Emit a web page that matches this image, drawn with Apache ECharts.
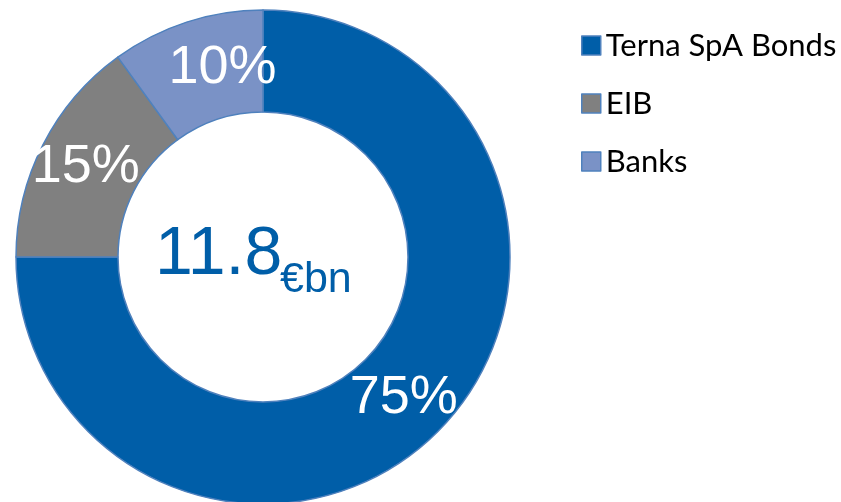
<!DOCTYPE html>
<html>
<head>
<meta charset="utf-8">
<title>Debt structure</title>
<script src="https://cdn.jsdelivr.net/npm/echarts@6/dist/echarts.min.js"></script>
<style>
  html, body { margin: 0; padding: 0; background: #fff; }
  #main { width: 841px; height: 502px; }
</style>
</head>
<body>
<div id="main"></div>
<script>
// data
const categories = ['Terna SpA Bonds', 'EIB', 'Banks']
const shares = [75, 15, 10]
const colors = ['#005EA8', '#808080', '#7A92C6']
const totalValue = '11.8'
const totalUnit = '€bn'

const chart = echarts.init(document.getElementById('main'))

const pieData = categories.map((name, i) => ({
  name: name,
  value: shares[i],
  itemStyle: { color: colors[i] },
  // Banks label sits a bit right of the slice centre in the original
  label: i === 2 ? { padding: [0, 0, 0, 42] } : {}
}))

const option = {
  animation: false,
  legend: {
    orient: 'vertical',
    left: 576,
    top: 25,
    icon: 'rect',
    itemWidth: 19,
    itemHeight: 19,
    itemGap: 27,
    data: categories,
    textStyle: { fontFamily: 'Lato', fontSize: 31, color: '#000' },
    itemStyle: { borderColor: '#4F81BD', borderWidth: 1.5 }
  },
  graphic: [
    {
      type: 'text',
      left: 155,
      top: 221,
      style: { text: totalValue, fontFamily: 'Liberation Sans', fontSize: 68, fill: '#005EA8' }
    },
    {
      type: 'text',
      left: 280,
      top: 259,
      style: { text: totalUnit, fontFamily: 'Liberation Sans', fontSize: 43, fill: '#005EA8' }
    }
  ],
  series: [
    {
      type: 'pie',
      center: [263, 257],
      radius: [145, 247],
      startAngle: 90,
      clockwise: true,
      silent: true,
      itemStyle: { borderColor: '#4F81BD', borderWidth: 1.5 },
      label: {
        show: true,
        position: 'inside',
        formatter: '{c}%',
        fontFamily: 'Liberation Sans',
        fontSize: 54,
        color: '#fff'
      },
      labelLine: { show: false },
      data: pieData
    }
  ]
}

chart.setOption(option)
</script>
</body>
</html>
